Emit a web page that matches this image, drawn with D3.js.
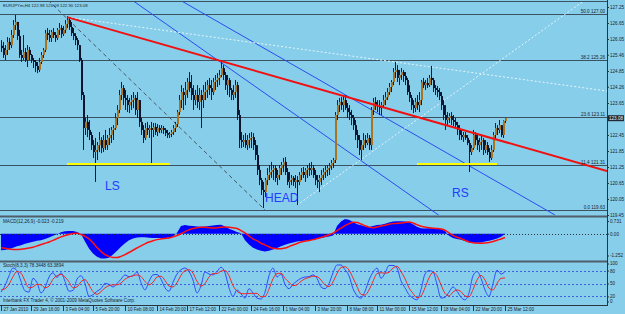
<!DOCTYPE html>
<html>
<head>
<meta charset="utf-8">
<script src="https://cdn.jsdelivr.net/npm/d3@7"></script>
<style>
  body { margin: 0; background: #87ceeb; }
  svg { display: block; font-family: "Liberation Sans", Arial, sans-serif; }
</style>
</head>
<body>
<svg id="chart" width="625" height="314"></svg>
<script>
// EURJPY H4, one value per bar (27 Jan - 25 Mar 2010)
const firstOpen = 125.80;
const closes = [
  125.71,125.45,125.64,125.94,125.82,126.20,126.57,126.69,126.16,125.45,
  125.34,125.56,125.26,125.64,125.45,125.26,125.19,125.04,124.89,125.19,
  125.45,125.64,126.27,126.20,126.09,126.31,126.20,126.09,126.39,126.46,
  126.24,126.39,126.61,126.76,126.50,126.27,126.16,126.01,125.82,125.26,
  123.95,122.71,122.94,122.64,122.45,122.07,121.81,121.89,122.07,122.26,
  121.96,122.26,122.07,122.34,122.45,122.64,122.71,123.09,123.39,123.95,
  124.21,123.84,123.76,123.57,123.69,123.76,123.84,123.39,123.76,122.94,
  122.64,122.34,122.71,122.64,122.71,122.64,122.75,122.56,122.71,122.64,
  122.71,122.64,122.52,122.45,122.49,122.56,122.71,122.86,123.31,123.76,
  124.06,123.95,124.14,124.44,124.21,123.95,123.76,123.95,123.69,123.95,
  123.76,124.06,124.14,124.32,124.21,124.06,124.44,124.51,124.59,124.70,
  124.96,124.70,124.32,124.51,124.14,123.95,124.06,124.32,123.20,122.26,
  122.19,122.26,122.07,122.26,122.34,122.37,122.07,121.70,121.14,120.76,
  120.39,120.31,120.76,120.95,121.06,121.14,121.21,120.84,120.95,121.21,
  121.32,121.44,121.06,120.69,120.76,120.84,120.69,120.76,120.69,120.95,
  121.06,120.95,121.14,121.21,121.14,121.21,120.95,120.76,120.69,120.84,
  120.95,121.06,121.14,121.21,121.29,121.40,121.51,123.20,123.57,123.69,
  123.57,123.76,123.46,123.31,123.20,123.09,122.82,122.45,122.26,121.89,
  122.07,122.26,122.15,122.34,122.07,123.39,123.69,123.57,123.54,123.46,
  123.57,123.76,123.87,124.06,124.25,124.44,124.81,124.89,124.59,124.70,
  124.81,124.66,124.51,124.06,123.84,123.57,123.46,123.69,123.57,123.76,
  124.44,124.32,124.40,124.32,124.59,124.51,124.21,124.14,124.06,123.91,
  123.57,123.20,123.01,123.09,123.16,123.01,122.94,122.82,122.64,122.45,
  122.37,122.45,122.34,122.15,121.81,121.96,122.45,122.26,122.07,122.19,
  122.26,121.89,122.07,121.81,121.59,121.89,122.45,122.71,122.64,122.82,
  122.45,122.98,123.08
];
const highs = [
  126.01,125.94,125.82,126.12,126.09,126.39,126.76,126.95,126.69,126.39,
  125.64,126.20,125.71,125.82,125.75,125.49,125.34,125.26,125.19,125.34,
  125.56,125.71,126.39,126.46,126.39,126.39,126.46,126.31,126.46,126.65,
  126.57,126.54,126.76,126.91,126.84,126.69,126.46,126.27,126.09,125.82,
  125.34,124.06,123.09,123.20,123.01,122.56,122.26,122.34,122.19,122.56,
  122.37,122.45,122.64,122.45,122.71,122.75,122.82,123.27,123.57,124.14,
  124.44,124.32,124.14,123.95,123.84,123.95,124.06,123.95,124.06,123.76,
  123.09,122.82,122.90,122.94,122.82,122.94,122.90,122.90,122.86,122.82,
  122.82,122.79,122.71,122.64,122.56,122.64,122.82,122.94,123.39,123.95,
  124.32,124.21,124.44,124.59,124.81,124.70,124.32,124.14,124.32,124.21,
  124.14,124.32,124.44,124.51,124.59,124.51,124.59,124.70,124.77,124.89,
  125.19,125.07,124.81,124.70,124.59,124.21,124.32,124.51,124.44,123.39,
  122.56,122.45,122.52,122.45,122.52,122.56,122.52,122.26,122.07,121.32,
  120.84,120.69,120.84,121.21,121.32,121.44,121.32,121.32,121.14,121.32,
  121.44,121.59,121.62,121.21,121.06,120.95,120.91,120.95,120.91,121.06,
  121.21,121.25,121.21,121.32,121.40,121.44,121.32,121.14,120.95,120.95,
  121.14,121.21,121.29,121.32,121.40,121.51,121.59,123.31,123.76,123.84,
  123.87,123.95,123.95,123.65,123.57,123.39,123.20,123.01,122.64,122.45,
  122.26,122.52,122.45,122.52,122.45,123.50,123.84,123.87,123.76,123.76,
  123.69,123.95,124.06,124.21,124.40,124.51,124.96,125.19,125.07,124.89,
  124.96,124.89,124.81,124.59,124.32,123.95,123.76,123.84,123.95,124.06,
  124.51,124.59,124.51,124.59,124.70,125.04,124.59,124.32,124.29,124.21,
  124.06,123.76,123.57,123.31,123.27,123.31,123.20,123.09,122.94,122.82,
  122.64,122.56,122.56,122.45,122.26,122.07,122.64,122.56,122.45,122.34,
  122.45,122.34,122.26,122.19,121.96,122.07,122.56,122.90,122.82,123.01,
  122.82,123.00,123.09
];
const lows = [
  125.56,125.34,125.26,125.45,125.64,125.71,126.09,126.39,126.01,125.34,
  125.19,125.26,125.19,125.00,125.26,125.15,124.96,124.81,124.77,124.81,
  125.11,125.34,125.56,126.01,125.94,125.94,126.09,125.94,126.01,126.20,
  126.09,126.16,126.27,126.46,126.39,126.16,126.01,125.82,125.64,125.19,
  123.76,121.89,122.45,122.37,122.26,121.89,121.59,120.69,121.51,121.81,
  121.77,121.81,121.89,121.89,122.07,122.15,122.26,122.64,122.82,123.27,
  123.76,123.57,123.39,123.31,123.27,123.39,123.46,123.20,123.09,122.75,
  122.45,122.15,122.26,122.45,122.34,121.40,122.37,122.45,122.41,122.52,
  122.52,122.49,122.41,122.34,122.34,122.37,122.45,122.56,122.75,123.20,
  123.46,123.39,123.57,123.84,124.06,123.76,123.39,123.57,123.46,123.39,
  122.71,123.46,123.76,123.84,123.95,123.76,123.95,124.14,124.25,124.32,
  124.62,124.51,124.14,123.95,123.87,123.76,123.76,123.84,123.01,121.96,
  121.96,122.00,121.96,121.89,121.96,121.96,121.89,121.51,120.95,120.57,
  120.20,119.71,120.12,120.57,120.76,120.84,120.76,120.69,120.57,120.76,
  120.95,121.06,120.95,120.57,120.46,120.57,120.54,120.46,119.82,120.57,
  120.76,120.84,120.69,120.84,120.91,120.95,120.84,120.57,120.46,120.31,
  120.57,120.76,120.84,120.91,120.95,121.14,121.21,121.40,123.01,123.31,
  123.39,123.31,123.39,123.09,123.01,122.82,122.64,122.26,121.96,121.70,
  121.51,121.89,121.96,122.07,121.89,121.89,123.20,123.39,123.31,123.20,
  123.20,123.46,123.57,123.76,123.95,124.06,124.32,124.59,124.44,124.32,
  124.51,124.44,124.32,123.95,123.69,123.39,123.27,123.31,123.39,123.31,
  123.57,124.21,124.14,124.21,124.25,124.32,124.06,123.95,123.87,123.76,
  123.39,123.01,122.64,122.82,122.90,122.82,122.79,122.71,122.45,122.26,
  122.26,122.19,122.26,122.07,121.06,121.70,121.89,122.07,121.89,121.81,
  121.89,121.70,121.77,121.70,121.44,121.51,121.81,122.26,122.45,122.52,
  122.37,122.34,122.90
];

// indicators, one value every 2 bars
const indStep = 2;
const macdMain = [
  -0.95,-0.93,-0.88,-0.80,-0.72,-0.66,-0.58,-0.52,-0.46,-0.41,
  -0.37,-0.30,-0.22,-0.12,-0.03,0.08,0.14,0.16,0.15,0.10,
  -0.02,-0.45,-0.85,-1.14,-1.33,-1.43,-1.42,-1.38,-1.20,-0.98,
  -0.75,-0.55,-0.38,-0.27,-0.22,-0.20,-0.21,-0.23,-0.24,-0.25,
  -0.25,-0.24,-0.22,-0.16,0.05,0.45,0.50,0.46,0.44,0.42,
  0.40,0.42,0.44,0.47,0.50,0.52,0.42,0.28,0.20,0.10,
  0.02,-0.38,-0.62,-0.80,-0.90,-0.98,-1.02,-0.98,-0.90,-0.82,
  -0.72,-0.64,-0.56,-0.50,-0.45,-0.42,-0.40,-0.38,-0.34,-0.30,
  -0.25,-0.21,-0.16,-0.10,0.45,0.70,0.85,0.80,0.68,0.55,
  0.48,0.42,0.38,0.45,0.50,0.52,0.58,0.65,0.70,0.72,
  0.72,0.70,0.66,0.55,0.40,0.32,0.30,0.32,0.32,0.30,
  0.26,0.15,-0.12,-0.25,-0.30,-0.34,-0.42,-0.50,-0.52,-0.52,
  -0.50,-0.45,-0.40,-0.35,-0.28,-0.18,-0.02
];
const macdSignal = [
  -0.80,-0.84,-0.88,-0.90,-0.90,-0.89,-0.86,-0.82,-0.78,-0.70,
  -0.62,-0.55,-0.48,-0.38,-0.28,-0.18,-0.10,-0.04,0.01,0.03,
  -0.05,-0.15,-0.30,-0.52,-0.79,-1.02,-1.20,-1.30,-1.36,-1.37,
  -1.30,-1.20,-1.08,-0.95,-0.82,-0.70,-0.58,-0.48,-0.40,-0.34,
  -0.30,-0.27,-0.24,-0.18,-0.10,0.00,0.12,0.22,0.30,0.34,
  0.37,0.37,0.35,0.33,0.34,0.37,0.38,0.37,0.34,0.30,
  0.18,0.05,-0.12,-0.30,-0.40,-0.55,-0.64,-0.75,-0.84,-0.86,
  -0.86,-0.82,-0.74,-0.65,-0.56,-0.48,-0.43,-0.39,-0.34,-0.28,
  -0.22,-0.15,-0.06,0.03,0.18,0.32,0.46,0.58,0.66,0.64,
  0.56,0.46,0.38,0.34,0.38,0.44,0.49,0.54,0.58,0.60,
  0.62,0.65,0.67,0.62,0.52,0.43,0.38,0.34,0.32,0.30,
  0.27,0.20,0.05,-0.09,-0.20,-0.28,-0.38,-0.47,-0.52,-0.54,
  -0.55,-0.53,-0.50,-0.45,-0.38,-0.30,-0.22
];
const stochK = [
  30,45,68,86,80,55,33,30,62,52,
  28,40,65,75,64,75,55,32,34,60,
  68,50,20,24,32,38,50,48,42,50,
  60,70,66,68,77,52,35,55,70,71,
  60,40,32,53,72,82,86,78,58,28,
  45,77,72,70,78,88,75,40,20,35,
  26,16,38,28,16,14,30,68,86,65,
  72,48,38,48,56,62,65,66,70,62,
  42,38,50,75,93,93,82,68,38,22,
  16,32,58,76,86,62,74,92,92,86,
  56,40,24,16,12,36,72,80,77,48,
  16,18,30,42,32,18,12,28,68,78,
  62,35,20,50,81,72,78
];
const stochD = [
  35,38,48,66,78,74,56,40,42,48,
  47,40,44,60,68,71,65,54,40,42,
  54,59,46,31,25,31,40,45,47,47,
  51,60,65,68,70,66,55,47,53,65,
  67,57,44,42,52,69,80,82,74,55,
  44,50,65,73,73,79,80,68,45,32,
  27,26,27,27,27,19,20,37,61,73,
  74,62,53,45,47,55,61,64,67,66,
  58,47,43,54,73,87,89,81,63,43,
  25,23,35,55,73,75,74,76,86,90,
  78,61,40,27,17,21,40,63,76,68,
  47,27,21,30,35,31,21,19,36,58,
  69,58,39,35,50,62,63
];

// axis labels
const priceTicks = [127.25,126.65,126.05,125.46,124.85,124.26,123.65,122.45,121.85,121.25,120.65,120.05,119.45];
const macdTicks = [0.731, 0, -1.252];
const macdTickLabels = ["0.731", "0.00", "-1.252"];
const stochTicks = [100, 80, 50, 20, 0];
const stochLevels = [80, 50, 20];
const timeTickBars = [0,15,31,46,62,78,93,109,125,141,157,173,188,204,220,236,252];
const timeTickLabels = ["27 Jan 2010","29 Jan 16:00","3 Feb 04:00","5 Feb 20:00","10 Feb 08:00",
  "14 Feb 20:00","17 Feb 12:00","22 Feb 00:00","24 Feb 16:00","1 Mar 04:00","3 Mar 20:00",
  "8 Mar 08:00","11 Mar 00:00","15 Mar 12:00","18 Mar 04:00","22 Mar 20:00","25 Mar 12:00"];

// fibonacci levels
const fibLevels = ["50.0", "38.2", "23.6", "11.4", "0.0"];
const fibPrices = [127.00, 125.26, 123.11, 121.31, 119.63];

// drawn objects: [bar, price] endpoints
const redTrend = [[33, 126.87], [303, 121.10]];
const channelLines = [[[65.5, 127.51], [219.5, 119.41]], [[89.5, 127.51], [277, 119.45]]];
const dashedLine = [[23.5, 127.51], [132, 119.64]];
const dottedLines = [[[33, 126.87], [303, 124.10]], [[148, 119.82], [292, 127.51]]];
const necklines = [[[33, 121.36], [84.5, 121.36]], [[208, 121.36], [248, 121.36]]];
const patternLabels = ["LS", "HEAD", "RS"];
const patternBars = [52, 132, 225.5];
const patternPrices = [120.39, 119.93, 120.12];

const lastPrice = 123.08;

const W = 625, H = 314, axisX = 607;
const small = 4.6;
const ink = '#1a2530';
const svg = d3.select('#chart');
svg.append('rect').attr('width', W).attr('height', H).attr('fill', '#87ceeb');

const barX = d3.scaleLinear().domain([0, 252]).range([1, 505]);
const yPrice = d3.scaleLinear().domain([119.45, 127.25]).range([215, 7]);
const yMacd = d3.scaleLinear().domain([-1.252, 0.731]).range([255.5, 221]);
const yStoch = d3.scaleLinear().domain([0, 100]).range([305, 262]);

const defs = svg.append('defs');
const clip = (id, y, h) => defs.append('clipPath').attr('id', id)
  .append('rect').attr('x', 0).attr('y', y).attr('width', axisX).attr('height', h);
clip('clipMain', 1, 214);
clip('clipMacd', 218, 42);
clip('clipStoch', 263, 42);

const main = svg.append('g').attr('clip-path', 'url(#clipMain)');

// fib levels
main.selectAll('line.fib').data(fibPrices).join('line')
  .attr('x1', 0).attr('x2', axisX)
  .attr('y1', d => Math.round(yPrice(d)) + 0.5).attr('y2', d => Math.round(yPrice(d)) + 0.5)
  .attr('stroke', '#3d5261').attr('stroke-width', 1);
svg.append('line').attr('x1', 0).attr('x2', axisX).attr('y1', 1.5).attr('y2', 1.5)
  .attr('stroke', '#3d5261');

const lineGen = d3.line().x(d => barX(d[0])).y(d => yPrice(d[1]));

main.selectAll('path.chan').data(channelLines).join('path')
  .attr('d', lineGen).attr('stroke', '#2a4cf0').attr('stroke-width', 1).attr('fill', 'none');
main.append('path').attr('d', lineGen(dashedLine))
  .attr('stroke', '#4a5560').attr('stroke-dasharray', '4,3').attr('fill', 'none');
main.selectAll('path.dot').data(dottedLines).join('path')
  .attr('d', lineGen).attr('stroke', '#e8f4fa').attr('stroke-dasharray', '2,2').attr('fill', 'none');

// candles
const bars = closes.map((c, i) => ({ i, o: i ? closes[i - 1] : firstOpen, h: highs[i], l: lows[i], c }));
main.selectAll('line.wick').data(bars).join('line')
  .attr('x1', d => barX(d.i) + 0.5).attr('x2', d => barX(d.i) + 0.5)
  .attr('y1', d => yPrice(d.h)).attr('y2', d => yPrice(d.l))
  .attr('stroke', '#131c28').attr('stroke-width', 1);
main.selectAll('rect.body').data(bars).join('rect')
  .attr('x', d => barX(d.i)).attr('width', 2)
  .attr('y', d => yPrice(Math.max(d.o, d.c)))
  .attr('height', d => Math.max(1, Math.abs(yPrice(d.o) - yPrice(d.c))))
  .attr('fill', d => d.c >= d.o ? '#a8741f' : '#0a1630');

main.selectAll('path.neck').data(necklines).join('path')
  .attr('d', lineGen).attr('stroke', '#ffff00').attr('stroke-width', 2).attr('fill', 'none');
main.append('path').attr('d', lineGen(redTrend))
  .attr('stroke', '#f01010').attr('stroke-width', 2).attr('fill', 'none');

main.selectAll('text.pat').data(patternLabels).join('text')
  .attr('x', (d, i) => barX(patternBars[i])).attr('y', (d, i) => yPrice(patternPrices[i]))
  .attr('font-size', 12).attr('fill', '#1f3cff').text(d => d);

// fib labels
svg.selectAll('text.fib').data(fibLevels).join('text')
  .attr('x', 605).attr('y', (d, i) => Math.round(yPrice(fibPrices[i])) - 1)
  .attr('text-anchor', 'end').attr('font-size', small).attr('fill', ink)
  .text((d, i) => d + '   ' + fibPrices[i].toFixed(2));

svg.append('text').attr('x', 3).attr('y', 6.5).attr('font-size', 4.3).attr('fill', ink)
  .text('EURJPYm,H4  122.98 123.09 122.90 123.08');

// panel separators
[216.5, 261.5].forEach(y => svg.append('line').attr('x1', 0).attr('x2', axisX)
  .attr('y1', y).attr('y2', y).attr('stroke', '#4f5e6a').attr('stroke-width', 2));

// MACD
const macd = svg.append('g').attr('clip-path', 'url(#clipMacd)');
macd.append('path').datum(macdMain)
  .attr('d', d3.area().x((d, i) => barX(i * indStep)).y0(yMacd(0)).y1(d => yMacd(d)))
  .attr('fill', '#0000ff');
macd.append('line').attr('x1', 0).attr('x2', axisX)
  .attr('y1', Math.round(yMacd(0)) + 0.5).attr('y2', Math.round(yMacd(0)) + 0.5)
  .attr('stroke', '#2b3540').attr('stroke-dasharray', '1,2');
macd.append('path').datum(macdSignal)
  .attr('d', d3.line().x((d, i) => barX(i * indStep)).y(d => yMacd(d)).curve(d3.curveMonotoneX))
  .attr('fill', 'none').attr('stroke', '#ff1010').attr('stroke-width', 1.5);
svg.append('text').attr('x', 3).attr('y', 222.5).attr('font-size', small).attr('fill', ink)
  .text('MACD(12,26,9) -0.023 -0.219');

// Stochastic
const stoch = svg.append('g').attr('clip-path', 'url(#clipStoch)');
stoch.selectAll('line.lvl').data(stochLevels).join('line')
  .attr('x1', 0).attr('x2', axisX)
  .attr('y1', d => Math.round(yStoch(d)) + 0.5).attr('y2', d => Math.round(yStoch(d)) + 0.5)
  .attr('stroke', '#3f62dc').attr('stroke-dasharray', '2,2');
const stochLine = d3.line().x((d, i) => barX(i * indStep)).y(d => yStoch(d)).curve(d3.curveMonotoneX);
stoch.append('path').datum(stochK).attr('d', stochLine)
  .attr('fill', 'none').attr('stroke', '#2f4cff').attr('stroke-width', 1);
stoch.append('path').datum(stochD).attr('d', stochLine)
  .attr('fill', 'none').attr('stroke', '#f02828').attr('stroke-width', 1);
svg.append('text').attr('x', 3).attr('y', 267).attr('font-size', small).attr('fill', ink)
  .text('Stoch(8,3,3) 78.3448 63.3894');
svg.append('text').attr('x', 3).attr('y', 301.5).attr('font-size', small).attr('fill', ink)
  .text('Interbank FX Trader 4, \u00a9 2001-2009 MetaQuotes Software Corp.');

// right axes
const styleAxis = g => {
  g.select('.domain').remove();
  g.selectAll('line').attr('stroke', '#2b3540');
  g.selectAll('text').attr('font-size', small).attr('fill', ink)
    .attr('font-family', '"Liberation Sans", Arial, sans-serif');
};
svg.append('g').attr('transform', `translate(${axisX},0)`)
  .call(d3.axisRight(yPrice).tickValues(priceTicks).tickSize(2).tickPadding(1).tickFormat(d => d.toFixed(2)))
  .call(styleAxis);
svg.append('g').attr('transform', `translate(${axisX},0)`)
  .call(d3.axisRight(yMacd).tickValues(macdTicks).tickSize(2).tickPadding(1)
    .tickFormat((d, i) => macdTickLabels[i]))
  .call(styleAxis);
const stochAxis = svg.append('g').attr('transform', `translate(${axisX},0)`)
  .call(d3.axisRight(yStoch).tickValues(stochTicks).tickSize(2).tickPadding(1))
  .call(styleAxis);
stochAxis.selectAll('.tick').filter(d => d === 100).attr('transform', `translate(0,${yStoch(100) + 2})`);
stochAxis.selectAll('.tick').filter(d => d === 0).attr('transform', `translate(0,${yStoch(0) - 3})`);

svg.append('line').attr('x1', axisX + 0.5).attr('x2', axisX + 0.5).attr('y1', 0).attr('y2', 306)
  .attr('stroke', '#2b3540');
svg.append('line').attr('x1', 0).attr('x2', axisX).attr('y1', 305.5).attr('y2', 305.5)
  .attr('stroke', '#2b3540');

// current price box
const py = yPrice(lastPrice);
svg.append('rect').attr('x', axisX + 1).attr('y', py - 3).attr('width', 16).attr('height', 6)
  .attr('fill', '#1e2a36');
svg.append('text').attr('x', axisX + 2).attr('y', py + 1.7).attr('font-size', small).attr('fill', '#eef3f6')
  .text(lastPrice.toFixed(2));

// time axis
const tAxis = svg.append('g').attr('transform', 'translate(0,305)')
  .call(d3.axisBottom(barX).tickValues(timeTickBars).tickSize(6).tickFormat((d, i) => timeTickLabels[i]));
tAxis.select('.domain').remove();
tAxis.selectAll('line').attr('stroke', '#2b3540');
tAxis.selectAll('text').attr('text-anchor', 'start').attr('x', 2).attr('y', 3).attr('dy', '0.71em')
  .attr('font-size', 4.5).attr('fill', ink)
  .attr('font-family', '"Liberation Sans", Arial, sans-serif');
</script>
</body>
</html>
